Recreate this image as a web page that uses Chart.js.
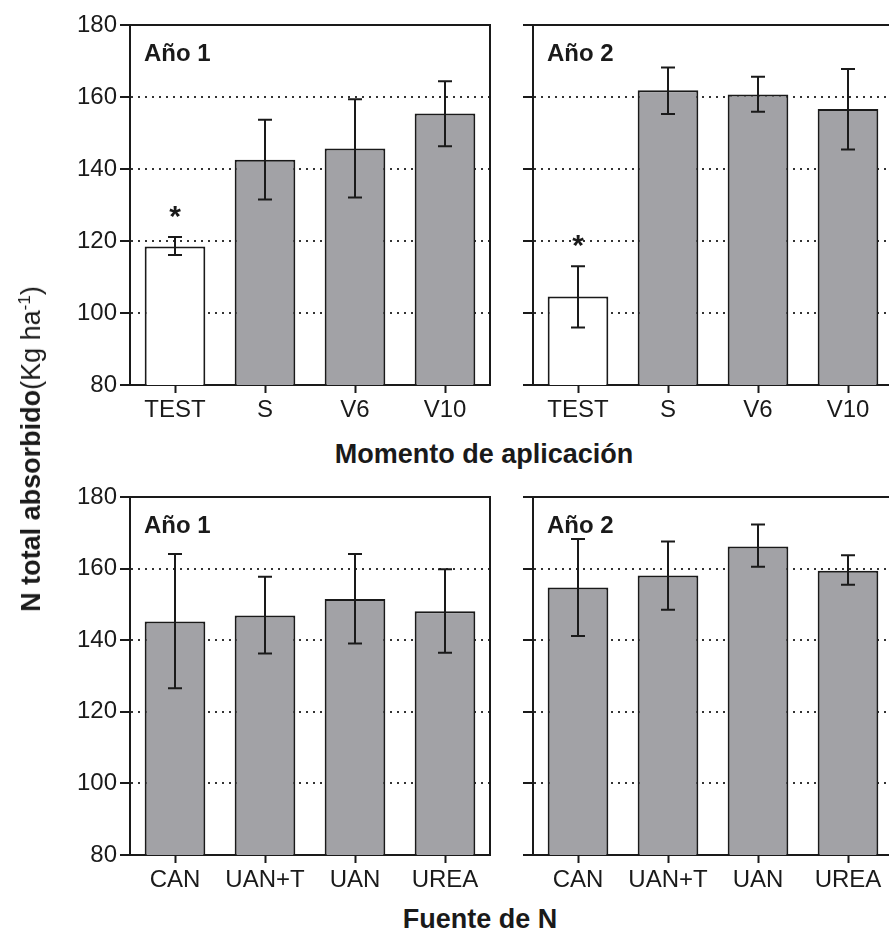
<!DOCTYPE html>
<html>
<head>
<meta charset="utf-8">
<script src="https://cdn.jsdelivr.net/npm/chart.js@4"></script>
<style>
    html, body { margin: 0; padding: 0; background: #fff; overflow: hidden; }
    body { width: 889px; height: 945px; position: relative; font-family: "Liberation Sans", Arial, sans-serif; color: #1a1a1a; }
    .panel { position: absolute; }
    .xtitle { position: absolute; font-weight: bold; font-size: 27px; transform: translate(-50%, -50%); white-space: nowrap; }
    #ytitle { position: absolute; left: 31px; top: 449px; font-size: 27px; white-space: nowrap; transform: translate(-50%, -50%) rotate(-90deg); }
    #ytitle b { font-weight: bold; }
    #ytitle sup { font-size: 17px; }
</style>
</head>
<body>
<div class="panel" style="left:0;top:0;width:500px;height:430px"><canvas id="chartTopLeft"></canvas></div>
<div class="panel" style="left:490px;top:0;width:420px;height:430px"><canvas id="chartTopRight"></canvas></div>
<div class="panel" style="left:0;top:470px;width:500px;height:430px"><canvas id="chartBottomLeft"></canvas></div>
<div class="panel" style="left:490px;top:470px;width:420px;height:430px"><canvas id="chartBottomRight"></canvas></div>
<div class="xtitle" style="left:484px;top:454px">Momento de aplicación</div>
<div class="xtitle" style="left:480px;top:919px">Fuente de N</div>
<div id="ytitle"><b>N total absorbido</b>(Kg ha<sup>-1</sup>)</div>

<script>
// momento de aplicacion
let momentos = ['TEST', 'S', 'V6', 'V10'];
let momentoAnio1 = [118.5, 142.6, 145.7, 155.4];
let momentoAnio1Low = [116.1, 131.5, 132.1, 146.3];
let momentoAnio1High = [121.1, 153.7, 159.4, 164.4];
let momentoAnio2 = [104.6, 161.9, 160.7, 156.7];
let momentoAnio2Low = [96.0, 155.3, 155.9, 145.4];
let momentoAnio2High = [113.0, 168.2, 165.6, 167.8];
let momentoSignif = [true, false, false, false];

// fuente de N
let fuentes = ['CAN', 'UAN+T', 'UAN', 'UREA'];
let fuenteAnio1 = [145.2, 146.9, 151.5, 148.1];
let fuenteAnio1Low = [126.6, 136.3, 139.1, 136.5];
let fuenteAnio1High = [164.1, 157.7, 164.1, 159.8];
let fuenteAnio2 = [154.7, 158.1, 166.2, 159.4];
let fuenteAnio2Low = [141.2, 148.5, 160.5, 155.5];
let fuenteAnio2High = [168.3, 167.6, 172.3, 163.7];
let fuenteSignif = [false, false, false, false];

let yTicks = [80, 100, 120, 140, 160, 180];

let ink = '#1a1a1a';
let gray = '#a2a2a6';
let font = '"Liberation Sans", Arial, sans-serif';

let panelPlugin = {
    id: 'panelExtras',
    afterDatasetsDraw(chart, args, opts) {
        let ctx = chart.ctx;
        let area = chart.chartArea;
        let yScale = chart.scales.y;
        let xScale = chart.scales.x;
        ctx.save();
        ctx.strokeStyle = ink;
        ctx.lineWidth = 2;
        // frame top and right
        ctx.beginPath();
        ctx.moveTo(area.left, area.top);
        ctx.lineTo(area.right, area.top);
        ctx.lineTo(area.right, area.bottom);
        ctx.stroke();
        // error bars
        for (let i = 0; i < opts.low.length; i++) {
            let x = xScale.getPixelForValue(i);
            let yLow = yScale.getPixelForValue(opts.low[i]);
            let yHigh = yScale.getPixelForValue(opts.high[i]);
            ctx.beginPath();
            ctx.moveTo(x, yLow);
            ctx.lineTo(x, yHigh);
            ctx.moveTo(x - 7, yLow);
            ctx.lineTo(x + 7, yLow);
            ctx.moveTo(x - 7, yHigh);
            ctx.lineTo(x + 7, yHigh);
            ctx.stroke();
            if (opts.signif[i]) {
                ctx.fillStyle = ink;
                ctx.font = 'bold 30px ' + font;
                ctx.textAlign = 'center';
                ctx.textBaseline = 'middle';
                ctx.fillText('*', x, yHigh - 19);
            }
        }
        // panel label
        ctx.fillStyle = ink;
        ctx.font = 'bold 24px ' + font;
        ctx.textAlign = 'left';
        ctx.textBaseline = 'middle';
        ctx.fillText(opts.label, area.left + 14, area.top + 29);
        ctx.restore();
    }
};

function makePanel(canvasId, labels, values, low, high, signif, label, showYLabels, padding, yWidth) {
    let colors = [];
    for (let i = 0; i < values.length; i++) {
        colors.push(labels[i] == 'TEST' ? '#ffffff' : gray);
    }
    return new Chart(document.getElementById(canvasId), {
        type: 'bar',
        data: {
            labels: labels,
            datasets: [{
                data: values,
                backgroundColor: colors,
                borderColor: ink,
                borderWidth: 2,
                barPercentage: 1,
                categoryPercentage: 0.674
            }]
        },
        options: {
            responsive: true,
            maintainAspectRatio: false,
            animation: false,
            layout: { padding: padding },
            plugins: {
                legend: { display: false },
                tooltip: { enabled: false },
                panelExtras: { low: low, high: high, signif: signif, label: label }
            },
            scales: {
                x: {
                    afterFit: function (scale) { scale.height = 45; },
                    grid: {
                        offset: false,
                        drawOnChartArea: false,
                        tickLength: 8,
                        tickWidth: 2,
                        tickColor: ink
                    },
                    border: { color: ink, width: 2 },
                    ticks: { color: ink, padding: 3, font: { family: font, size: 24 } }
                },
                y: {
                    min: 80,
                    max: 180,
                    afterFit: function (scale) { scale.width = yWidth; },
                    afterBuildTicks: function (scale) {
                        scale.ticks = yTicks.map(v => ({ value: v }));
                    },
                    grid: {
                        color: c => (c.tick && (c.tick.value == 80 || c.tick.value == 180)) ? 'rgba(0,0,0,0)' : '#333',
                        lineWidth: 2,
                        tickBorderDash: [],
                        tickLength: 10,
                        tickWidth: 2,
                        tickColor: ink
                    },
                    border: { color: ink, width: 2, dash: [2, 5] },
                    ticks: { display: showYLabels, color: ink, padding: 3, font: { family: font, size: 24 } }
                }
            }
        },
        plugins: [panelPlugin]
    });
}

makePanel('chartTopLeft', momentos, momentoAnio1, momentoAnio1Low, momentoAnio1High, momentoSignif, 'Año 1', true,
    { top: 25, right: 10, left: 0, bottom: 0 }, 130);
makePanel('chartTopRight', momentos, momentoAnio2, momentoAnio2Low, momentoAnio2High, momentoSignif, 'Año 2', false,
    { top: 25, right: 17, left: 0, bottom: 0 }, 43);
makePanel('chartBottomLeft', fuentes, fuenteAnio1, fuenteAnio1Low, fuenteAnio1High, fuenteSignif, 'Año 1', true,
    { top: 27, right: 10, left: 0, bottom: 0 }, 130);
makePanel('chartBottomRight', fuentes, fuenteAnio2, fuenteAnio2Low, fuenteAnio2High, fuenteSignif, 'Año 2', false,
    { top: 27, right: 17, left: 0, bottom: 0 }, 43);
</script>
</body>
</html>
